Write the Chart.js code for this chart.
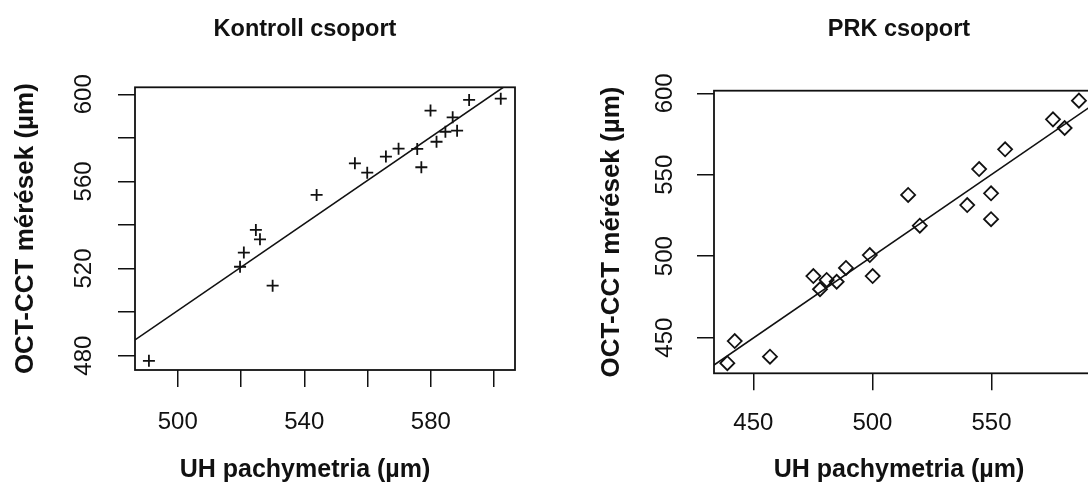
<!DOCTYPE html>
<html>
<head>
<meta charset="utf-8">
<script src="https://cdn.jsdelivr.net/npm/chart.js@4/dist/chart.umd.min.js"></script>
<style>
  html, body { margin: 0; padding: 0; background: #fff; overflow: hidden; width: 1088px; height: 485px; }
  canvas { position: absolute; top: 0; }
  #kontroll { left: 0; }
  #prk { left: 579px; }
</style>
</head>
<body>
<canvas id="kontroll" width="610" height="485"></canvas>
<canvas id="prk" width="640" height="485"></canvas>
<script>
// Kontroll csoport: UH pachymetria (x) vs OCT-CCT (y), µm
const kontrollX = [490.9, 519.7, 520.9, 524.7, 526.0, 530.0, 543.9, 556.0, 559.9, 565.8, 569.8, 575.7, 577.0, 579.9, 581.8, 584.6, 586.9, 588.3, 592.1, 602.1];
const kontrollY = [477.6, 520.8, 527.3, 537.7, 533.4, 512.1, 553.8, 568.3, 564.0, 571.4, 575.0, 574.9, 566.5, 592.5, 578.2, 582.8, 589.4, 583.3, 597.4, 598.0];
// regression line (end points)
const kontrollFitX = [486.5, 602.9];
const kontrollFitY = [487.2, 603.2];

// PRK csoport
const prkX = [439.1, 442.2, 457.0, 475.2, 478.0, 480.8, 485.0, 488.9, 498.9, 500.1, 515.0, 519.9, 539.8, 544.8, 549.8, 549.8, 555.7, 575.8, 580.7, 586.7];
const prkY = [434.3, 447.9, 438.3, 487.8, 479.7, 485.4, 484.3, 492.8, 500.7, 487.8, 537.6, 518.7, 531.4, 553.5, 538.6, 522.7, 565.6, 584.0, 578.7, 595.5];
const prkFitX = [433.5, 592.6];
const prkFitY = [433.2, 592.9];

// ticks and their labels (R leaves some ticks unlabelled)
const kontrollXTicks = [500, 520, 540, 560, 580, 600];
const kontrollXLabels = ['500', '', '540', '', '580', ''];
const kontrollYTicks = [480, 500, 520, 540, 560, 580, 600];
const kontrollYLabels = ['480', '', '520', '', '560', '', '600'];
const prkXTicks = [450, 500, 550];
const prkXLabels = ['450', '500', '550'];
const prkYTicks = [450, 500, 550, 600];
const prkYLabels = ['450', '500', '550', '600'];

const FONT = "'Liberation Sans', Arial, Helvetica, sans-serif";

// frame around the plot region, like R's box()
const boxPlugin = {
    id: 'box',
    afterDatasetsDraw(chart) {
        const a = chart.chartArea;
        const ctx = chart.ctx;
        ctx.save();
        ctx.strokeStyle = '#111';
        ctx.lineWidth = 1.8;
        ctx.strokeRect(a.left, a.top, a.right - a.left, a.bottom - a.top);
        ctx.restore();
    }
};

function makePanel(id, cfg) {
    const pts = cfg.xs.map((x, i) => ({ x: x, y: cfg.ys[i] }));
    const fit = cfg.fitX.map((x, i) => ({ x: x, y: cfg.fitY[i] }));
    const tickGrid = { display: true, drawOnChartArea: false, drawTicks: true, tickLength: 17, color: '#111', lineWidth: 1.5 };

    new Chart(document.getElementById(id), {
        type: 'scatter',
        data: {
            datasets: [
                {
                    data: fit,
                    showLine: true,
                    borderColor: '#111',
                    borderWidth: 1.6,
                    pointRadius: 0
                },
                {
                    data: pts,
                    pointStyle: cfg.marker,
                    pointRadius: cfg.markerSize,
                    pointBorderWidth: 1.8,
                    borderColor: '#111',
                    backgroundColor: 'rgba(0,0,0,0)',
                    clip: false
                }
            ]
        },
        plugins: [boxPlugin],
        options: {
            responsive: false,
            animation: false,
            layout: { padding: 0 },
            plugins: {
                legend: { display: false },
                tooltip: { enabled: false },
                title: {
                    display: true,
                    text: cfg.title,
                    color: '#111',
                    font: { family: FONT, size: 23.5, weight: 'bold' },
                    padding: { top: 15.4, bottom: cfg.top - 28.2 - 15.4 }
                },
                subtitle: {
                    display: true,
                    position: 'bottom',
                    text: 'UH pachymetria (µm)',
                    color: '#111',
                    font: { family: FONT, size: 25, weight: 'bold' },
                    padding: { top: 0, bottom: 0 }
                }
            },
            scales: {
                x: {
                    type: 'linear',
                    min: cfg.xMin,
                    max: cfg.xMax,
                    afterBuildTicks: s => { s.ticks = cfg.xTicks.map(v => ({ value: v })); },
                    afterFit: s => { s.height = 455 - cfg.bottom; },
                    grid: tickGrid,
                    border: { display: false },
                    ticks: {
                        autoSkip: false,
                        maxRotation: 0,
                        padding: cfg.xPad,
                        color: '#111',
                        font: { family: FONT, size: 24 },
                        callback: (v, i) => cfg.xLabels[i]
                    }
                },
                y: {
                    type: 'linear',
                    min: cfg.yMin,
                    max: cfg.yMax,
                    afterBuildTicks: s => { s.ticks = cfg.yTicks.map(v => ({ value: v })); },
                    afterFit: s => { s.width = 135; },
                    grid: tickGrid,
                    border: { display: false },
                    title: {
                        display: true,
                        text: 'OCT-CCT mérések (µm)',
                        color: '#111',
                        font: { family: FONT, size: 26, weight: 'bold' },
                        padding: { top: cfg.yTitlePad, bottom: 0 }
                    },
                    ticks: {
                        autoSkip: false,
                        minRotation: 90,
                        maxRotation: 90,
                        crossAlign: 'center',
                        padding: cfg.yPad,
                        color: '#111',
                        font: { family: FONT, size: 24 },
                        callback: (v, i) => cfg.yLabels[i]
                    }
                },
                // empty space on the right so the titles sit where R put them
                spacer: {
                    type: 'linear',
                    position: 'right',
                    display: true,
                    afterFit: s => { s.width = cfg.spacer; },
                    grid: { display: false },
                    border: { display: false },
                    ticks: { display: false }
                }
            }
        }
    });
}

makePanel('kontroll', {
    title: 'Kontroll csoport',
    xs: kontrollX, ys: kontrollY, fitX: kontrollFitX, fitY: kontrollFitY,
    marker: 'cross', markerSize: 6,
    xMin: 486.5, xMax: 606.6, yMin: 473.4, yMax: 603.2,
    xTicks: kontrollXTicks, xLabels: kontrollXLabels,
    yTicks: kontrollYTicks, yLabels: kontrollYLabels,
    top: 87.3, bottom: 370, xPad: 20.6, yPad: 13.5, yTitlePad: 10.4, spacer: 95
});

makePanel('prk', {
    title: 'PRK csoport',
    xs: prkX, ys: prkY, fitX: prkFitX, fitY: prkFitY,
    marker: 'rectRot', markerSize: 7,
    xMin: 433.5, xMax: 592.6, yMin: 428.1, yMax: 601.6,
    xTicks: prkXTicks, xLabels: prkXLabels,
    yTicks: prkYTicks, yLabels: prkYLabels,
    top: 90.7, bottom: 373.3, xPad: 18.8, yPad: 12, yTitlePad: 17.4, spacer: 126
});
</script>
</body>
</html>
